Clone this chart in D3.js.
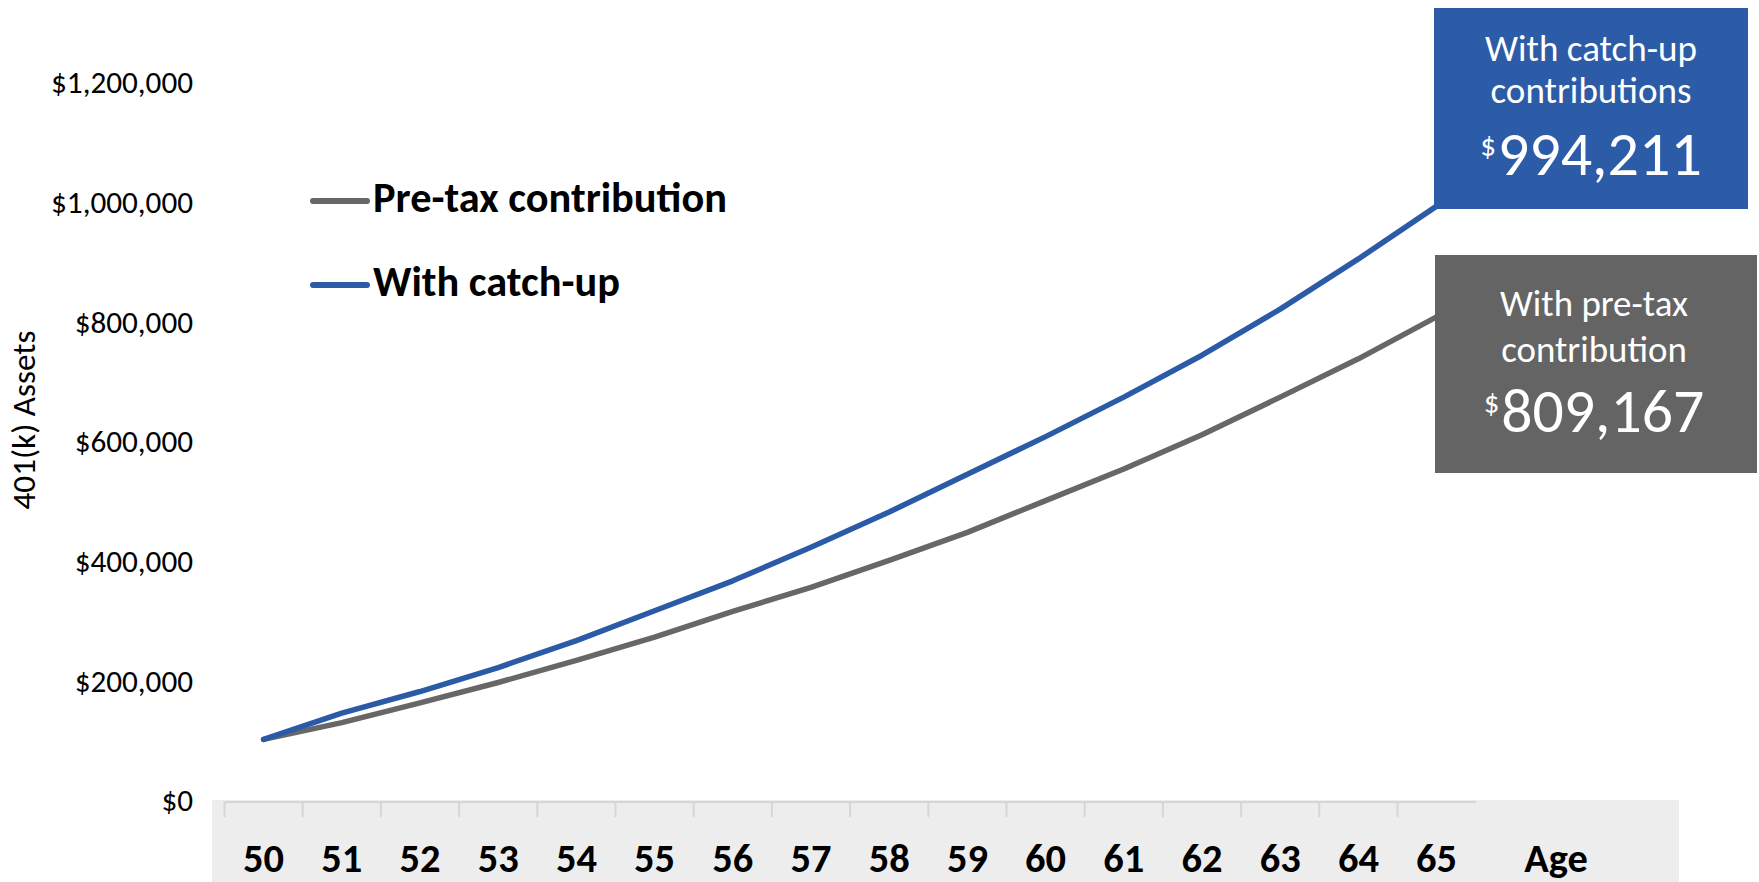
<!DOCTYPE html>
<html>
<head>
<meta charset="utf-8">
<script src="https://cdn.jsdelivr.net/npm/d3@7"></script>
<style>
  html, body { margin: 0; padding: 0; background: #ffffff; }
  svg { display: block; font-family: Calibri, Carlito, Lato, sans-serif; }
</style>
</head>
<body>
<svg id="chart" width="1759" height="882"></svg>
<script>
// ---------- data ----------
const ages = [50, 51, 52, 53, 54, 55, 56, 57, 58, 59, 60, 61, 62, 63, 64, 65];
const preTax = [103000, 131000, 164000, 198000, 235000, 274000, 317000, 357000, 402000, 449000, 502000, 555000, 612000, 675000, 739000, 809167];
const catchUp = [103000, 147000, 183000, 223000, 268000, 318000, 368000, 424000, 483000, 546000, 609000, 675000, 745000, 822000, 906000, 994211];
const yTicks = [0, 200000, 400000, 600000, 800000, 1000000, 1200000];
const seriesNames = ["Pre-tax contribution", "With catch-up"];
const boxCatchUp = ["With catch-up", "contributions", "994,211"];
const boxPreTax = ["With pre-tax", "contribution", "809,167"];
const yTitle = "401(k) Assets";
const xTitle = "Age";

const BLUE = "#2b5ba7";
const GRAY = "#676767";

const svg = d3.select("#chart");

// helper: scale font-size so that text width hits a target
function fitWidth(sel, target) {
  const node = sel.node();
  const fs = parseFloat(sel.attr("font-size"));
  const w = node.getComputedTextLength();
  const nf = fs * target / w;
  sel.attr("font-size", nf);
  return nf;
}

// ---------- scales ----------
const x = d3.scaleBand().domain(ages).range([224.5, 1475.7]).padding(0);
const cx = a => x(a) + x.bandwidth() / 2;
const y = d3.scaleLinear().domain([0, 1200000]).range([801, 83]);

// ---------- x axis band ----------
svg.append("rect").attr("x", 212).attr("y", 800).attr("width", 1679 - 212).attr("height", 82)
  .attr("fill", "#ededed");
svg.append("line").attr("x1", x.range()[0]).attr("x2", x.range()[1]).attr("y1", 802).attr("y2", 802)
  .attr("stroke", "#d6d6d6").attr("stroke-width", 2);
svg.append("g").selectAll("line").data(ages).join("line")
  .attr("x1", d => x(d)).attr("x2", d => x(d)).attr("y1", 802).attr("y2", 817)
  .attr("stroke", "#d6d6d6").attr("stroke-width", 2);

// x tick labels
const xl = svg.append("g").selectAll("text").data(ages).join("text")
  .attr("x", d => cx(d)).attr("y", 872)
  .attr("text-anchor", "middle").attr("font-weight", "bold").attr("font-size", 40)
  .attr("fill", "#000").text(d => d);
const xfs = fitWidth(d3.select(xl.nodes()[0]), 41);
xl.attr("font-size", xfs);
svg.append("text").attr("x", 1556).attr("y", 872).attr("text-anchor", "middle")
  .attr("font-weight", "bold").attr("font-size", xfs).attr("fill", "#000").text(xTitle);

// ---------- y axis ----------
const yAxis = svg.append("g").attr("transform", "translate(193,0)")
  .call(d3.axisLeft(y).tickValues(yTicks).tickFormat(d3.format("$,.0f")).tickSize(0).tickPadding(0));
yAxis.select(".domain").remove();
yAxis.attr("font-family", null).attr("font-size", null);
yAxis.selectAll("text").attr("fill", "#000").attr("font-size", 31);
const ytxt = yAxis.selectAll("text").filter(d => d === 1200000);
const yfs = fitWidth(ytxt, 142);
yAxis.selectAll("text").attr("font-size", yfs);

// y title
const yt = svg.append("text").attr("transform", "translate(35,420) rotate(-90)")
  .attr("text-anchor", "middle").attr("font-size", 31).attr("fill", "#000").text(yTitle);
fitWidth(yt, 179);

// ---------- lines ----------
const line = d3.line().x((d, i) => cx(ages[i])).y(d => y(d));
svg.append("path").datum(preTax).attr("d", line).attr("fill", "none")
  .attr("stroke", GRAY).attr("stroke-width", 5.5).attr("stroke-linecap", "round").attr("stroke-linejoin", "round");
svg.append("path").datum(catchUp).attr("d", line).attr("fill", "none")
  .attr("stroke", BLUE).attr("stroke-width", 5.5).attr("stroke-linecap", "round").attr("stroke-linejoin", "round");

// ---------- legend ----------
const legend = [
  { name: seriesNames[0], color: GRAY, ly: 201, base: 212, w: 354 },
  { name: seriesNames[1], color: BLUE, ly: 285, base: 296, w: 245 }
];
let legFs = null;
legend.forEach((l, i) => {
  svg.append("line").attr("x1", 313).attr("x2", 367).attr("y1", l.ly).attr("y2", l.ly)
    .attr("stroke", l.color).attr("stroke-width", 6).attr("stroke-linecap", "round");
  const t = svg.append("text").attr("x", 373).attr("y", l.base).attr("font-weight", "bold")
    .attr("font-size", 42).attr("fill", "#000").text(l.name);
  if (i === 0) legFs = fitWidth(t, l.w); else t.attr("font-size", legFs);
});

// ---------- callout boxes ----------
function callout(box) {
  const g = svg.append("g");
  g.append("rect").attr("x", box.x0).attr("y", box.y0).attr("width", box.x1 - box.x0)
    .attr("height", box.y1 - box.y0).attr("fill", box.fill);
  const mid = box.cx;
  const t1 = g.append("text").attr("x", mid).attr("y", box.b1).attr("text-anchor", "middle")
    .attr("font-size", 33).attr("fill", "#fff").text(box.lines[0]);
  const fs = fitWidth(t1, box.w1);
  g.append("text").attr("x", mid).attr("y", box.b2).attr("text-anchor", "middle")
    .attr("font-size", fs).attr("fill", "#fff").text(box.lines[1]);
  const num = g.append("text").attr("x", 0).attr("y", box.b3)
    .attr("font-size", 62).attr("fill", "#fff").text(box.lines[2]);
  const nfs = fitWidth(num, box.w3);
  const dol = g.append("text").attr("x", 0).attr("y", box.b3 - nfs * 0.3)
    .attr("font-size", nfs * 0.5).attr("fill", "#fff").text("$");
  const dw = dol.node().getComputedTextLength();
  const total = dw + 2 + box.w3;
  const start = mid - total / 2;
  dol.attr("x", start);
  num.attr("x", start + dw + 2);
}
callout({ x0: 1434, x1: 1748, y0: 8, y1: 209, fill: "#2c5ba7", cx: 1591,
  lines: boxCatchUp, b1: 61, b2: 103, b3: 175, w1: 212, w3: 204 });
callout({ x0: 1435, x1: 1757, y0: 255, y1: 473, fill: "#646464", cx: 1594,
  lines: boxPreTax, b1: 316, b2: 362, b3: 432, w1: 188, w3: 203 });
</script>
</body>
</html>
